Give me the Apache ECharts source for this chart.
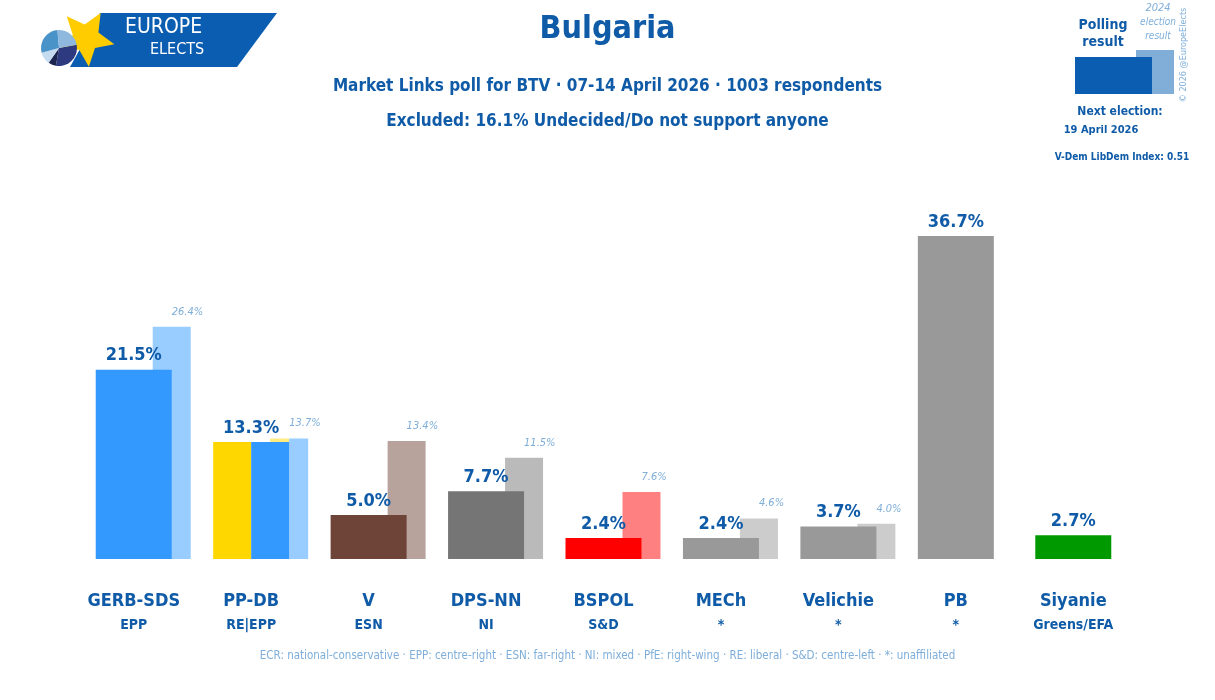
<!DOCTYPE html>
<html>
<head>
<meta charset="utf-8">
<style>
  html, body { margin: 0; padding: 0; background: #fff; }
  #chart { width: 1215px; height: 700px; }
</style>
<script src="https://cdn.jsdelivr.net/npm/echarts@6/dist/echarts.min.js"></script>
</head>
<body>
<div id="chart"></div>
<script>
// poll data
const parties = ['GERB-SDS', 'PP-DB', 'V', 'DPS-NN', 'BSPOL', 'MECh', 'Velichie', 'PB', 'Siyanie'];
const groups = ['EPP', 'RE|EPP', 'ESN', 'NI', 'S&D', '*', '*', '*', 'Greens/EFA'];
const pollValues = [21.5, 13.3, 5.0, 7.7, 2.4, 2.4, 3.7, 36.7, 2.7];
const prevValues = [26.4, 13.7, 13.4, 11.5, 7.6, 4.6, 4.0, null, null];

// colours per party (split bars get two)
const pollColors = [['#3399ff'], ['#ffd700', '#3399ff'], ['#6e4439'], ['#757575'], ['#ff0000'],
  ['#999999'], ['#999999'], ['#999999'], ['#009900']];
const prevColors = [['#99ccff'], ['#ffeb80', '#99ccff'], ['#b7a29c'], ['#bababa'], ['#ff8080'],
  ['#cccccc'], ['#cccccc'], ['#cccccc'], ['#80cc80']];

const FONT = "'DejaVu Sans Condensed', 'Liberation Sans Narrow', sans-serif";
const DARK = '#0f5ba7';
const LIGHT = '#7eaed9';

function barRender(kind) {
  return function (params, api) {
    const idx = api.value(0);
    const val = api.value(1);
    if (val == null || isNaN(val)) return;
    const base = api.coord([idx, 0]);
    const top = api.coord([idx, val]);
    const band = api.size([1, 0])[0];
    const w = band * 0.647;
    let x0, width, cols;
    if (kind === 'poll') {
      x0 = base[0] - w / 2; width = w; cols = pollColors[idx];
    } else {
      x0 = base[0] + w / 4; width = w / 2; cols = prevColors[idx];
    }
    const h = base[1] - top[1];
    const seg = width / cols.length;
    const children = cols.map(function (c, i) {
      return { type: 'rect', shape: { x: x0 + seg * i, y: top[1], width: seg, height: h }, style: { fill: c } };
    });
    const label = val.toFixed(1) + '%';
    if (kind === 'poll') {
      children.push({ type: 'text', style: { x: base[0], y: top[1] - 14, text: label, align: 'center', verticalAlign: 'middle',
        font: 'bold 18px ' + FONT, fill: DARK } });
    } else {
      // previous result label starts at the middle of its bar
      children.push({ type: 'text', style: { x: x0 + width / 2, y: top[1] - 15, text: label, align: 'left', verticalAlign: 'middle',
        font: 'italic 11px ' + FONT, fill: LIGHT } });
    }
    return { type: 'group', children: children };
  };
}

const chart = echarts.init(document.getElementById('chart'));

// logo star points
function starPoints(cx, cy, r1, r2, rot) {
  const pts = [];
  for (let i = 0; i < 10; i++) {
    const r = i % 2 === 0 ? r1 : r2;
    const a = rot + i * Math.PI / 5;
    pts.push([cx + r * Math.sin(a), cy - r * Math.cos(a)]);
  }
  return pts;
}

const deg = Math.PI / 180;
function pieSlice(a0, a1, color) {
  return { type: 'sector', shape: { cx: 59, cy: 48, r: 18, startAngle: a0 * deg, endAngle: a1 * deg }, style: { fill: color } };
}

chart.setOption({
  animation: false,
  textStyle: { fontFamily: FONT },
  grid: { left: 75, right: 83, top: 207, bottom: 141 },
  xAxis: {
    type: 'category',
    data: parties,
    axisLine: { show: false },
    axisTick: { show: false },
    axisLabel: {
      interval: 0,
      margin: 29,
      formatter: function (v, i) { return '{a|' + v + '}\n{b|' + groups[i] + '}'; },
      rich: {
        a: { fontFamily: FONT, fontWeight: 'bold', fontSize: 18, color: DARK, lineHeight: 26 },
        b: { fontFamily: FONT, fontWeight: 'bold', fontSize: 14, color: DARK, lineHeight: 22 }
      }
    }
  },
  yAxis: { type: 'value', min: 0, max: 40, show: false, splitLine: { show: false } },
  series: [
    { type: 'custom', renderItem: barRender('prev'), data: prevValues.map(function (v, i) { return [i, v]; }), z: 1 },
    { type: 'custom', renderItem: barRender('poll'), data: pollValues.map(function (v, i) { return [i, v]; }), z: 2 }
  ],
  graphic: [
    // title texts
    { type: 'text', left: 'center', top: 14, style: { text: 'Bulgaria', font: 'bold 32px ' + FONT, fill: DARK } },
    { type: 'text', left: 'center', top: 78, style: { text: 'Market Links poll for BTV · 07-14 April 2026 · 1003 respondents', font: 'bold 17px ' + FONT, fill: DARK } },
    { type: 'text', left: 'center', top: 113, style: { text: 'Excluded: 16.1% Undecided/Do not support anyone', font: 'bold 17px ' + FONT, fill: DARK } },
    { type: 'text', left: 'center', top: 650, style: { text: 'ECR: national-conservative · EPP: centre-right · ESN: far-right · NI: mixed · PfE: right-wing · RE: liberal · S&D: centre-left · *: unaffiliated', font: '11.5px ' + FONT, fill: LIGHT } },
    // logo
    { type: 'polygon', shape: { points: [[100, 13], [277, 13], [237, 67], [70, 67]] }, style: { fill: '#0a5db0' } },
    { type: 'polygon', shape: { points: starPoints(86, 38, 29, 13.5, 0.53) }, style: { fill: '#ffcc00' } },
    pieSlice(-10, 100, '#2d3a80'),
    pieSlice(100, 125, '#1b2550'),
    pieSlice(125, 165, '#c5dcf0'),
    pieSlice(165, 265, '#4a93c8'),
    pieSlice(265, 350, '#8fb8df'),
    { type: 'text', left: 125, top: 17, style: { text: 'EUROPE', font: '21px ' + FONT, fill: '#ffffff' } },
    { type: 'text', left: 150, top: 42, style: { text: 'ELECTS', font: '16px ' + FONT, fill: '#ffffff' } },
    // top-right key
    { type: 'text', x: 1103, y: 25, style: { text: 'Polling', align: 'center', verticalAlign: 'middle', font: 'bold 14px ' + FONT, fill: DARK } },
    { type: 'text', x: 1103, y: 42, style: { text: 'result', align: 'center', verticalAlign: 'middle', font: 'bold 14px ' + FONT, fill: DARK } },
    { type: 'text', x: 1158, y: 8, style: { text: '2024', align: 'center', verticalAlign: 'middle', font: 'italic 11px ' + FONT, fill: LIGHT } },
    { type: 'text', x: 1158, y: 22, style: { text: 'election', align: 'center', verticalAlign: 'middle', font: 'italic 10px ' + FONT, fill: LIGHT } },
    { type: 'text', x: 1158, y: 36, style: { text: 'result', align: 'center', verticalAlign: 'middle', font: 'italic 10px ' + FONT, fill: LIGHT } },
    { type: 'rect', shape: { x: 1136, y: 50, width: 38, height: 44 }, style: { fill: '#80aed8' } },
    { type: 'rect', shape: { x: 1075, y: 57, width: 77, height: 37 }, style: { fill: '#0a5db0' } },
    { type: 'text', x: 1184, y: 55, rotation: Math.PI / 2, style: { text: '© 2026 @EuropeElects', align: 'center', verticalAlign: 'middle', font: '9px ' + FONT, fill: LIGHT } },
    { type: 'text', x: 1120, y: 112, style: { text: 'Next election:', align: 'center', verticalAlign: 'middle', font: 'bold 12px ' + FONT, fill: DARK } },
    { type: 'text', x: 1101, y: 130, style: { text: '19 April 2026', align: 'center', verticalAlign: 'middle', font: 'bold 11px ' + FONT, fill: DARK } },
    { type: 'text', x: 1122, y: 157, style: { text: 'V-Dem LibDem Index: 0.51', align: 'center', verticalAlign: 'middle', font: 'bold 10px ' + FONT, fill: DARK } }
  ]
});

window.addEventListener('resize', function () { chart.resize(); });
</script>
</body>
</html>
